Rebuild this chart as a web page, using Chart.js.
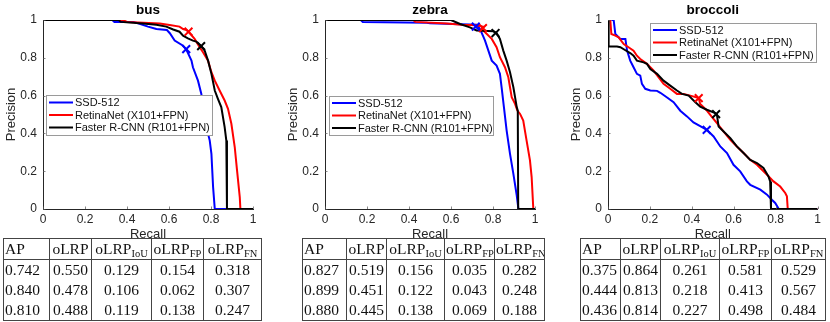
<!DOCTYPE html>
<html>
<head>
<meta charset="utf-8">
<title>PR curves - bus, zebra, broccoli</title>
<script src="https://cdn.jsdelivr.net/npm/chart.js@4.4.1/dist/chart.umd.min.js"></script>
<style>
  body { margin: 0; background: #fff; }
  #page { position: relative; width: 830px; height: 322px; overflow: hidden; }
  #page canvas { position: absolute; top: 0; }
  table.stats {
    position: absolute;
    top: 238px;
    border-collapse: collapse;
    table-layout: fixed;
    font-family: "Liberation Serif", serif;
    font-size: 15.5px;
    color: #111;
  }
  table.stats th, table.stats td {
    border-left: 1px solid #444;
    border-right: 1px solid #444;
    padding: 0 1px;
    height: 20px;
    line-height: 20px;
    text-align: center;
    font-weight: normal;
    white-space: nowrap;
    overflow: hidden;
  }
  table.stats thead th { border-top: 1px solid #444; border-bottom: 1px solid #444; height: 20px; }
  table.stats tbody tr:last-child td { border-bottom: 1px solid #444; }
  table.stats th:first-child, table.stats td:first-child { text-align: left; }
  table.stats sub { font-size: 10.5px; vertical-align: -3px; line-height: 0; }
</style>
</head>
<body>
<div id="page">
  <canvas id="chart-bus" width="270" height="242" style="left:0px"></canvas>
  <canvas id="chart-zebra" width="270" height="242" style="left:282px"></canvas>
  <canvas id="chart-broccoli" width="265" height="242" style="left:565px"></canvas>
  <table id="table-bus" class="stats" style="left:3px"></table>
  <table id="table-zebra" class="stats" style="left:302px"></table>
  <table id="table-broccoli" class="stats" style="left:580px"></table>
</div>
<script>
"use strict";

// Methods (legend order)
const methodNames = ["SSD-512", "RetinaNet (X101+FPN)", "Faster R-CNN (R101+FPN)"];
const methodColors = ["#0000ff", "#ff0000", "#000000"];

// ---- bus ----
const busSsdRecall = [0, 0.33, 0.34, 0.43, 0.46, 0.5, 0.54, 0.59, 0.604, 0.627, 0.667, 0.683, 0.707, 0.714, 0.738, 0.754, 0.762, 0.778, 0.786, 0.794, 0.802, 0.81, 0.818, 1];
const busSsdPrecision = [1, 1, 0.99, 0.99, 0.98, 0.965, 0.952, 0.947, 0.93, 0.891, 0.864, 0.842, 0.785, 0.75, 0.679, 0.609, 0.539, 0.451, 0.398, 0.362, 0.292, 0.116, 0, 0];
const busRetinaRecall = [0, 0.38, 0.4, 0.556, 0.603, 0.65, 0.667, 0.683, 0.695, 0.722, 0.746, 0.762, 0.786, 0.802, 0.818, 0.841, 0.865, 0.881, 0.897, 0.913, 0.924, 0.937, 0.94, 1];
const busRetinaPrecision = [1, 1, 0.99, 0.982, 0.974, 0.965, 0.952, 0.947, 0.935, 0.9, 0.856, 0.829, 0.785, 0.724, 0.679, 0.627, 0.574, 0.53, 0.451, 0.328, 0.204, 0.063, 0, 0];
const busFasterRecall = [0, 0.36, 0.37, 0.476, 0.54, 0.587, 0.62, 0.65, 0.667, 0.69, 0.714, 0.73, 0.754, 0.77, 0.786, 0.802, 0.818, 0.833, 0.849, 0.865, 0.873, 0.876, 1];
const busFasterPrecision = [1, 1, 0.99, 0.982, 0.975, 0.965, 0.95, 0.938, 0.917, 0.903, 0.891, 0.886, 0.861, 0.838, 0.785, 0.715, 0.627, 0.583, 0.539, 0.433, 0.362, 0, 0];
// oLRP points (x markers), one per method
const busMarkerRecall = [0.682, 0.693, 0.753];
const busMarkerPrecision = [0.846, 0.938, 0.862];

// ---- zebra ----
const zebraSsdRecall = [0, 0.17, 0.18, 0.484, 0.5, 0.722, 0.738, 0.754, 0.762, 0.778, 0.794, 0.817, 0.833, 0.841, 0.852, 0.865, 0.881, 0.897, 0.913, 0.921, 1];
const zebraSsdPrecision = [1, 1, 0.99, 0.985, 0.983, 0.975, 0.952, 0.912, 0.891, 0.838, 0.785, 0.759, 0.715, 0.644, 0.539, 0.415, 0.292, 0.186, 0.072, 0, 0];
const zebraRetinaRecall = [0, 0.42, 0.43, 0.58, 0.65, 0.72, 0.752, 0.745, 0.762, 0.794, 0.817, 0.833, 0.857, 0.873, 0.881, 0.889, 0.905, 0.916, 0.929, 0.944, 0.96, 0.976, 0.984, 0.992, 1];
const zebraRetinaPrecision = [1, 1, 0.99, 0.982, 0.975, 0.972, 0.965, 0.952, 0.935, 0.9, 0.856, 0.803, 0.75, 0.697, 0.644, 0.592, 0.556, 0.521, 0.503, 0.468, 0.362, 0.257, 0.169, 0, 0];
const zebraFasterRecall = [0, 0.6, 0.643, 0.69, 0.722, 0.802, 0.817, 0.833, 0.849, 0.865, 0.881, 0.897, 0.905, 0.913, 0.918, 0.92, 1];
const zebraFasterPrecision = [1, 1, 0.979, 0.961, 0.945, 0.94, 0.931, 0.9, 0.838, 0.785, 0.724, 0.644, 0.592, 0.539, 0.52, 0, 0];
const zebraMarkerRecall = [0.718, 0.752, 0.812];
const zebraMarkerPrecision = [0.965, 0.957, 0.931];

// ---- broccoli ----
const broccoliSsdRecall = [0.016, 0.027, 0.035, 0.059, 0.083, 0.091, 0.106, 0.122, 0.138, 0.154, 0.162, 0.178, 0.202, 0.234, 0.25, 0.282, 0.313, 0.345, 0.377, 0.408, 0.44, 0.472, 0.504, 0.536, 0.568, 0.599, 0.631, 0.663, 0.679, 0.727, 0.759, 0.782, 0.798, 0.809, 0.815, 1];
const broccoliSsdPrecision = [1, 1, 0.926, 0.9, 0.9, 0.838, 0.785, 0.75, 0.715, 0.706, 0.662, 0.636, 0.627, 0.625, 0.615, 0.59, 0.565, 0.52, 0.49, 0.458, 0.438, 0.419, 0.384, 0.331, 0.296, 0.234, 0.199, 0.146, 0.128, 0.102, 0.076, 0.049, 0.032, 0.012, 0, 0];
const broccoliRetinaRecall = [0.011, 0.016, 0.035, 0.051, 0.075, 0.098, 0.122, 0.138, 0.154, 0.186, 0.218, 0.241, 0.265, 0.297, 0.329, 0.361, 0.393, 0.433, 0.44, 0.472, 0.488, 0.52, 0.552, 0.584, 0.615, 0.647, 0.679, 0.711, 0.735, 0.759, 0.79, 0.822, 0.846, 0.854, 0.858, 1];
const broccoliRetinaPrecision = [1, 0.926, 0.917, 0.908, 0.873, 0.856, 0.838, 0.811, 0.794, 0.768, 0.732, 0.697, 0.662, 0.636, 0.609, 0.609, 0.6, 0.587, 0.556, 0.521, 0.498, 0.454, 0.41, 0.366, 0.331, 0.296, 0.26, 0.234, 0.208, 0.181, 0.146, 0.119, 0.085, 0.067, 0, 0];
const broccoliFasterRecall = [0, 0.003, 0.043, 0.059, 0.083, 0.106, 0.122, 0.138, 0.17, 0.186, 0.202, 0.234, 0.265, 0.297, 0.329, 0.353, 0.385, 0.417, 0.44, 0.472, 0.512, 0.52, 0.528, 0.552, 0.584, 0.615, 0.647, 0.679, 0.711, 0.742, 0.766, 0.774, 0.778, 1];
const broccoliFasterPrecision = [1, 0.86, 0.86, 0.856, 0.84, 0.825, 0.811, 0.785, 0.776, 0.768, 0.741, 0.715, 0.679, 0.653, 0.627, 0.609, 0.6, 0.565, 0.542, 0.525, 0.507, 0.498, 0.436, 0.41, 0.375, 0.331, 0.296, 0.26, 0.243, 0.217, 0.172, 0.146, 0, 0];
const broccoliMarkerRecall = [0.471, 0.433, 0.516];
const broccoliMarkerPrecision = [0.419, 0.587, 0.502];

// Tables: AP, oLRP, oLRP_IoU, oLRP_FP, oLRP_FN per method
const tableHeaders = ["AP", "oLRP", "oLRP<sub>IoU</sub>", "oLRP<sub>FP</sub>", "oLRP<sub>FN</sub>"];
const busTable = [
  [0.742, 0.550, 0.129, 0.154, 0.318],
  [0.840, 0.478, 0.106, 0.062, 0.307],
  [0.810, 0.488, 0.119, 0.138, 0.247],
];
const zebraTable = [
  [0.827, 0.519, 0.156, 0.035, 0.282],
  [0.899, 0.451, 0.122, 0.043, 0.248],
  [0.880, 0.445, 0.138, 0.069, 0.188],
];
const broccoliTable = [
  [0.375, 0.864, 0.261, 0.581, 0.529],
  [0.444, 0.813, 0.218, 0.413, 0.567],
  [0.436, 0.814, 0.227, 0.498, 0.484],
];

const AXIS_COLOR = "#262626";
const SANS = "'Liberation Sans', Arial, sans-serif";

// Small inward tick marks, like MATLAB axes
const innerTicks = {
  id: "innerTicks",
  afterDraw(chart) {
    const { ctx, chartArea, scales } = chart;
    ctx.save();
    ctx.strokeStyle = "#555";
    ctx.lineWidth = 0.7;
    ctx.beginPath();
    scales.x.ticks.forEach((t) => {
      const px = Math.round(scales.x.getPixelForValue(t.value)) + 0.5;
      ctx.moveTo(px, chartArea.bottom);
      ctx.lineTo(px, chartArea.bottom - 2.5);
    });
    scales.y.ticks.forEach((t) => {
      const py = Math.round(scales.y.getPixelForValue(t.value)) + 0.5;
      ctx.moveTo(chartArea.left, py);
      ctx.lineTo(chartArea.left + 2.5, py);
    });
    ctx.stroke();
    ctx.restore();
  },
};

// Boxed legend placed inside the axes (offsets relative to chart area)
const boxLegend = {
  id: "boxLegend",
  afterDraw(chart, args, opts) {
    const { ctx, chartArea } = chart;
    const items = chart.data.datasets.filter((d) => !d.isMarker);
    const x = Math.round(chartArea.left + opts.left);
    const y = Math.round(chartArea.top + opts.top);
    ctx.save();
    ctx.fillStyle = "#fff";
    ctx.fillRect(x, y, opts.width, opts.height);
    ctx.strokeStyle = "#9a9a9a";
    ctx.lineWidth = 1;
    ctx.strokeRect(x + 0.5, y + 0.5, opts.width, opts.height);
    ctx.font = "11px " + SANS;
    ctx.textBaseline = "middle";
    ctx.textAlign = "left";
    const mid = y + opts.height / 2;
    items.forEach((d, i) => {
      const cy = mid + (i - (items.length - 1) / 2) * opts.rowHeight;
      ctx.strokeStyle = d.borderColor;
      ctx.lineWidth = 2;
      ctx.beginPath();
      ctx.moveTo(x + 3, cy);
      ctx.lineTo(x + 27, cy);
      ctx.stroke();
      ctx.fillStyle = "#111";
      ctx.fillText(d.label, x + 29, cy + 0.5);
    });
    ctx.restore();
  },
};

function toPoints(xs, ys) {
  return xs.map((x, i) => ({ x: x, y: ys[i] }));
}

// MATLAB style tick text: 0, 0.2, ..., 1
function tickText(v) {
  return String(Math.round(v * 10) / 10);
}

function makeChart(canvasId, title, curves, markerRecall, markerPrecision, legendBox, rightPad) {
  const datasets = [];
  curves.forEach((c, i) => {
    datasets.push({
      label: methodNames[i],
      data: toPoints(c[0], c[1]),
      borderColor: methodColors[i],
      backgroundColor: methodColors[i],
      borderWidth: 2,
      pointRadius: 0,
      tension: 0,
      fill: false,
      order: 3 - i, // black drawn on top
    });
  });
  markerRecall.forEach((r, i) => {
    datasets.push({
      label: methodNames[i] + " oLRP",
      isMarker: true,
      data: [{ x: r, y: markerPrecision[i] }],
      showLine: false,
      pointStyle: "crossRot",
      pointRadius: 5.5,
      pointBorderWidth: 2,
      borderColor: methodColors[i],
      backgroundColor: methodColors[i],
      order: 0,
    });
  });

  return new Chart(document.getElementById(canvasId), {
    type: "line",
    data: { datasets: datasets },
    plugins: [innerTicks, boxLegend],
    options: {
      responsive: false,
      animation: false,
      layout: { padding: { left: 0, right: rightPad, top: 0, bottom: 0 } },
      plugins: {
        legend: { display: false },
        tooltip: { enabled: false },
        title: {
          display: true,
          text: title,
          fullSize: false,
          color: "#000",
          font: { family: SANS, size: 13.5, weight: "bold", lineHeight: 1 },
          padding: { top: 4, bottom: 2.5 },
        },
        boxLegend: legendBox,
      },
      scales: {
        x: {
          type: "linear",
          min: 0,
          max: 1,
          grid: { display: false, drawTicks: false },
          border: { display: true, color: AXIS_COLOR, width: 1 },
          ticks: { stepSize: 0.2, color: AXIS_COLOR, padding: 3, maxRotation: 0, font: { family: SANS, size: 12 }, callback: tickText },
          title: { display: true, text: "Recall", color: AXIS_COLOR, padding: 0, font: { family: SANS, size: 13 } },
          afterFit: (s) => { s.height = 33; },
        },
        y: {
          type: "linear",
          min: 0,
          max: 1,
          grid: { display: false, drawTicks: false },
          border: { display: true, color: AXIS_COLOR, width: 1 },
          ticks: { stepSize: 0.2, color: AXIS_COLOR, padding: 6, font: { family: SANS, size: 12 }, callback: tickText },
          title: { display: true, text: "Precision", color: AXIS_COLOR, padding: { top: 4, bottom: 0 }, font: { family: SANS, size: 13 } },
          afterFit: (s) => { s.width = 43; },
        },
      },
    },
  });
}

function buildTable(tableId, rows, colWidths) {
  const table = document.getElementById(tableId);
  const total = colWidths.reduce((a, b) => a + b, 0);
  table.style.width = total + "px";
  let html = "<colgroup>" + colWidths.map((w) => `<col style="width:${w}px">`).join("") + "</colgroup>";
  html += "<thead><tr>" + tableHeaders.map((h) => `<th>${h}</th>`).join("") + "</tr></thead><tbody>";
  rows.forEach((r) => {
    html += "<tr>" + r.map((v) => `<td>${v.toFixed(3)}</td>`).join("") + "</tr>";
  });
  table.innerHTML = html + "</tbody>";
}

makeChart("chart-bus", "bus",
  [[busSsdRecall, busSsdPrecision], [busRetinaRecall, busRetinaPrecision], [busFasterRecall, busFasterPrecision]],
  busMarkerRecall, busMarkerPrecision,
  { left: 3, top: 75, width: 166, height: 40, rowHeight: 12.5 }, 17);

makeChart("chart-zebra", "zebra",
  [[zebraSsdRecall, zebraSsdPrecision], [zebraRetinaRecall, zebraRetinaPrecision], [zebraFasterRecall, zebraFasterPrecision]],
  zebraMarkerRecall, zebraMarkerPrecision,
  { left: 4, top: 76, width: 164, height: 39, rowHeight: 12.5 }, 17);

makeChart("chart-broccoli", "broccoli",
  [[broccoliSsdRecall, broccoliSsdPrecision], [broccoliRetinaRecall, broccoliRetinaPrecision], [broccoliFasterRecall, broccoliFasterPrecision]],
  broccoliMarkerRecall, broccoliMarkerPrecision,
  { left: 42, top: 3, width: 166, height: 39, rowHeight: 12.5 }, 12.5);

buildTable("table-bus", busTable, [46, 42, 60, 52, 58]);
buildTable("table-zebra", zebraTable, [44, 40, 58, 50, 50]);
buildTable("table-broccoli", broccoliTable, [40, 40, 59, 52, 54]);
</script>
</body>
</html>
